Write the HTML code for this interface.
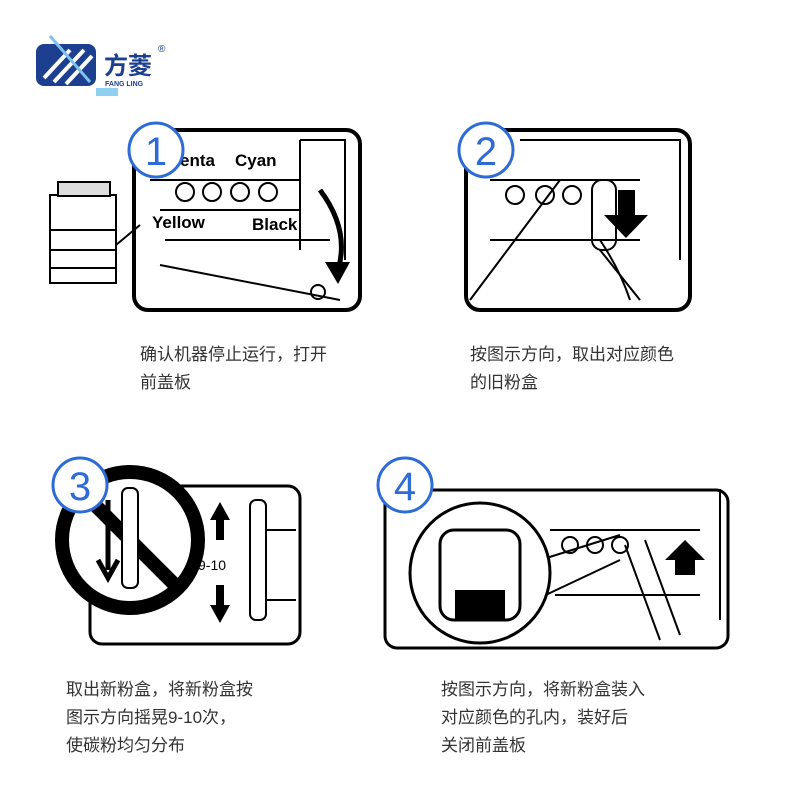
<!DOCTYPE html>
<html><head><meta charset="utf-8"><style>
html,body{margin:0;padding:0;background:#fff}
svg{display:block}
text{font-family:"Liberation Sans","Noto Sans CJK SC",sans-serif}
.cn{font-size:17px;fill:#333}
</style></head><body>
<svg width="800" height="800" viewBox="0 0 800 800" xmlns="http://www.w3.org/2000/svg">
<!-- logo -->
<rect x="36" y="44" width="60" height="42" rx="8" fill="#1d3f8f"/>
<path d="M44 78 L70 50 M54 82 L84 50 M66 84 L92 56" stroke="#fff" stroke-width="4" fill="none"/>
<path d="M50 36 L90 82" stroke="#7ec3ee" stroke-width="3" fill="none"/>
<text x="104" y="74" font-size="24" font-weight="bold" fill="#1d3f8f">方菱</text>
<text x="158" y="52" font-size="10" fill="#1d3f8f">®</text>
<text x="105" y="86" font-size="7" font-weight="bold" fill="#1d3f8f">FANG LING</text>
<rect x="96" y="88" width="22" height="8" fill="#8fd0f0"/>

<!-- panel 1 -->
<rect x="134" y="130" width="226" height="180" rx="14" fill="#fff" stroke="#000" stroke-width="4"/>
<g stroke="#000" stroke-width="2" fill="none">
<path d="M150 180 L300 180 M160 210 L300 210 M165 240 L330 240 M160 265 L340 300 M300 140 L300 250 M300 140 L345 140 L345 260"/>
<circle cx="185" cy="192" r="9"/><circle cx="212" cy="192" r="9"/><circle cx="240" cy="192" r="9"/><circle cx="268" cy="192" r="9"/>
<circle cx="318" cy="292" r="7"/>
</g>
<path d="M320 190 Q350 230 338 270" stroke="#000" stroke-width="5" fill="none"/>
<polygon points="325,262 350,262 338,284" fill="#000"/>
<text x="180" y="166" font-size="17" font-weight="bold">enta</text>
<text x="235" y="166" font-size="17" font-weight="bold">Cyan</text>
<text x="152" y="228" font-size="17" font-weight="bold">Yellow</text>
<text x="252" y="230" font-size="17" font-weight="bold">Black</text>
<!-- copier -->
<rect x="50" y="195" width="66" height="88" fill="#fff" stroke="#000" stroke-width="2"/>
<rect x="58" y="182" width="52" height="14" fill="#ddd" stroke="#000" stroke-width="2"/>
<path d="M50 230 L116 230 M50 250 L116 250 M50 268 L116 268" stroke="#000" stroke-width="2"/>
<path d="M116 245 L140 225" stroke="#000" stroke-width="2"/>
<circle cx="156" cy="150" r="27" fill="#fff" stroke="#2d6bd6" stroke-width="3"/>
<text x="156" y="165" font-size="40" fill="#2d6bd6" text-anchor="middle">1</text>
<text class="cn" x="140" y="360">确认机器停止运行，打开</text>
<text class="cn" x="140" y="388">前盖板</text>

<!-- panel 2 -->
<rect x="466" y="130" width="224" height="180" rx="14" fill="#fff" stroke="#000" stroke-width="4"/>
<g stroke="#000" stroke-width="2" fill="none">
<path d="M490 180 L640 180 M490 240 L640 240 M520 140 L680 140 L680 260 M470 300 L560 180 M600 250 L640 300"/>
<circle cx="515" cy="195" r="9"/><circle cx="545" cy="195" r="9"/><circle cx="572" cy="195" r="9"/>
<rect x="592" y="180" width="24" height="70" rx="10"/>
<path d="M600 240 Q620 270 630 300"/>
</g>
<polygon points="618,190 635,190 635,215 648,215 626,238 604,215 618,215" fill="#000"/>
<circle cx="486" cy="150" r="27" fill="#fff" stroke="#2d6bd6" stroke-width="3"/>
<text x="486" y="165" font-size="40" fill="#2d6bd6" text-anchor="middle">2</text>
<text class="cn" x="470" y="360">按图示方向，取出对应颜色</text>
<text class="cn" x="470" y="388">的旧粉盒</text>

<!-- panel 3 -->
<rect x="90" y="486" width="210" height="158" rx="12" fill="#fff" stroke="#000" stroke-width="3"/>
<circle cx="130" cy="540" r="68" fill="#fff" stroke="#000" stroke-width="14"/>
<line x1="82" y1="492" x2="178" y2="588" stroke="#000" stroke-width="14"/>
<rect x="122" y="488" width="16" height="100" rx="6" fill="#fff" stroke="#000" stroke-width="2"/>
<path d="M108 500 L108 570 M98 560 L108 578 L118 560" stroke="#000" stroke-width="5" fill="none"/>
<rect x="250" y="500" width="16" height="120" rx="6" fill="#fff" stroke="#000" stroke-width="2"/>
<path d="M266 530 L296 530 M266 600 L296 600" stroke="#000" stroke-width="2"/>
<polygon points="210,520 230,520 220,502" fill="#000"/><rect x="216" y="520" width="8" height="20" fill="#000"/>
<polygon points="210,605 230,605 220,623" fill="#000"/><rect x="216" y="585" width="8" height="20" fill="#000"/>
<text x="198" y="570" font-size="14">9-10</text>
<circle cx="80" cy="485" r="27" fill="#fff" stroke="#2d6bd6" stroke-width="3"/>
<text x="80" y="500" font-size="40" fill="#2d6bd6" text-anchor="middle">3</text>
<text class="cn" x="66" y="695">取出新粉盒，将新粉盒按</text>
<text class="cn" x="66" y="723">图示方向摇晃9-10次，</text>
<text class="cn" x="66" y="751">使碳粉均匀分布</text>

<!-- panel 4 -->
<rect x="385" y="490" width="343" height="158" rx="12" fill="#fff" stroke="#000" stroke-width="3"/>
<g stroke="#000" stroke-width="2" fill="none">
<path d="M545 490 L720 490 L720 620 M550 530 L700 530 M555 595 L700 595 M540 560 L620 535 M535 600 L620 560"/>
<circle cx="570" cy="545" r="8"/><circle cx="595" cy="545" r="8"/><circle cx="620" cy="545" r="8"/>
<path d="M625 545 L660 640 M645 540 L680 635"/>
</g>
<polygon points="675,575 695,575 695,560 705,560 685,540 665,560 675,560" fill="#000"/>
<circle cx="480" cy="573" r="70" fill="#fff" stroke="#000" stroke-width="3"/>
<rect x="440" y="530" width="80" height="90" rx="14" fill="#fff" stroke="#000" stroke-width="3"/>
<rect x="455" y="590" width="50" height="30" fill="#000"/>
<circle cx="405" cy="485" r="27" fill="#fff" stroke="#2d6bd6" stroke-width="3"/>
<text x="405" y="500" font-size="40" fill="#2d6bd6" text-anchor="middle">4</text>
<text class="cn" x="441" y="695">按图示方向，将新粉盒装入</text>
<text class="cn" x="441" y="723">对应颜色的孔内，装好后</text>
<text class="cn" x="441" y="751">关闭前盖板</text>
</svg>
</body></html>
